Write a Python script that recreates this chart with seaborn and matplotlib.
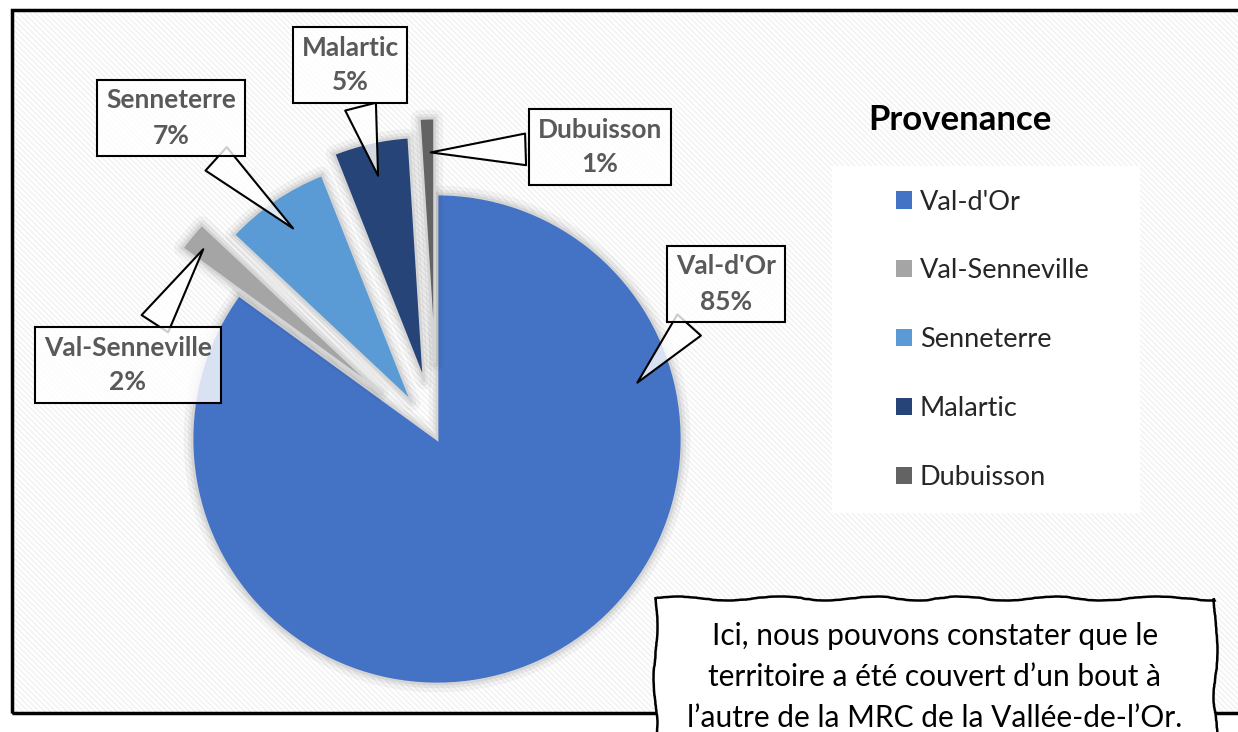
import matplotlib
matplotlib.use("Agg")
import matplotlib.pyplot as plt
import matplotlib.patheffects as pe
from matplotlib.patches import Rectangle, Patch
import seaborn as sns
import numpy as np

# Data
towns = ["Val-d'Or", "Val-Senneville", "Senneterre", "Malartic", "Dubuisson"]
shares = [85, 2, 7, 5, 1]
explode = [0.0, 0.30, 0.18, 0.24, 0.31]
colors = ["#4472C4", "#A5A5A5", "#5B9BD5", "#264478", "#636363"]

# callout layout (pixel positions of the label boxes, top-left origin)
label_pos = [(726, 284), (128, 365), (171, 118), (350, 65), (600, 147)]
tip_frac = [0.84, 0.93, 0.85, 0.85, 0.86]

note = ("Ici, nous pouvons constater que le\n"
        "territoire a été couvert d\u2019un bout à\n"
        "l\u2019autre de la MRC de la Vallée-de-l\u2019Or.")

sns.set_theme(style="white")
plt.rcParams["font.family"] = ["Lato", "DejaVu Sans"]
plt.rcParams["hatch.linewidth"] = 1.0

W, H = 1238, 732


def px(x, y):
    # convert image pixel coords (origin top-left) to axes data coords
    return (x, H - y)


fig = plt.figure(figsize=(W / 100, H / 100), dpi=100)
ax = fig.add_axes([0, 0, 1, 1])

# Plot area: faint diagonal stripes and black border
ax.add_patch(Rectangle(px(12, 713), W, 703, facecolor="white",
                       edgecolor="#f1f1f1", linewidth=0, hatch="\\" * 6, zorder=0))
ax.add_patch(Rectangle(px(12, 713), W, 703, fill=False,
                       edgecolor="black", linewidth=2.5, zorder=1))

# Pie (explode is in data units, so scale by the radius)
center = px(437, 439)
radius = 245
wedges, _ = ax.pie(shares, explode=[e * radius for e in explode], colors=colors,
                   startangle=90, counterclock=False, center=center, radius=radius,
                   wedgeprops=dict(edgecolor="#d4d4d4", linewidth=2))
for w in wedges:
    w.set_zorder(3)
    w.set_path_effects([pe.Stroke(linewidth=12, foreground=(0, 0, 0, 0.04),
                                  joinstyle="round"),
                        pe.Stroke(linewidth=6, foreground=(0, 0, 0, 0.05),
                                  joinstyle="round"),
                        pe.Normal()])

# Callout labels
for i, w in enumerate(wedges):
    mid = np.deg2rad((w.theta1 + w.theta2) / 2)
    if i == 0:
        mid = np.deg2rad(15.3)
    cx, cy = w.center
    tip = (cx + tip_frac[i] * radius * np.cos(mid),
           cy + tip_frac[i] * radius * np.sin(mid))
    ax.annotate(f"{towns[i]}\n{shares[i]}%", xy=tip, xytext=px(*label_pos[i]),
                ha="center", va="center", fontsize=19, fontweight="bold",
                color="#595959", linespacing=1.55, zorder=6,
                bbox=dict(boxstyle="square,pad=0.33", fc=(1, 1, 1, 0.8),
                          ec="black", lw=1.5),
                arrowprops=dict(arrowstyle="wedge,tail_width=1.2,shrink_factor=0.5",
                                fc=(1, 1, 1, 0.8), ec="black", lw=1.5))

# Legend
ax.add_patch(Rectangle(px(832, 513), 308, 347, facecolor="white",
                       edgecolor="none", zorder=2))
fig.text(960 / W, 1 - 120 / H, "Provenance", ha="center", va="center",
         fontsize=25, fontweight="bold", color="black")
handles = [Patch(facecolor=c, edgecolor="none") for c in colors]
ax.legend(handles, towns, loc="upper left",
          bbox_to_anchor=(882 / W, 1 - 176 / H), frameon=False,
          fontsize=19.5, handlelength=0.6, handleheight=0.6,
          handletextpad=0.3, labelspacing=1.62, borderpad=0)

# Comment box
box = Rectangle(px(655, 750), 560, 152, facecolor="white",
                edgecolor="black", linewidth=1.8, zorder=7)
box.set_sketch_params(scale=2, length=160, randomness=6)
ax.add_patch(box)
ax.text(*px(935, 677), note, ha="center", va="center", fontsize=21.5,
        color="black", linespacing=1.55, zorder=8)

ax.set_xlim(0, W)
ax.set_ylim(0, H)
ax.set_aspect("equal")
ax.axis("off")

fig.savefig("out.png", dpi=100)
plt.close(fig)
